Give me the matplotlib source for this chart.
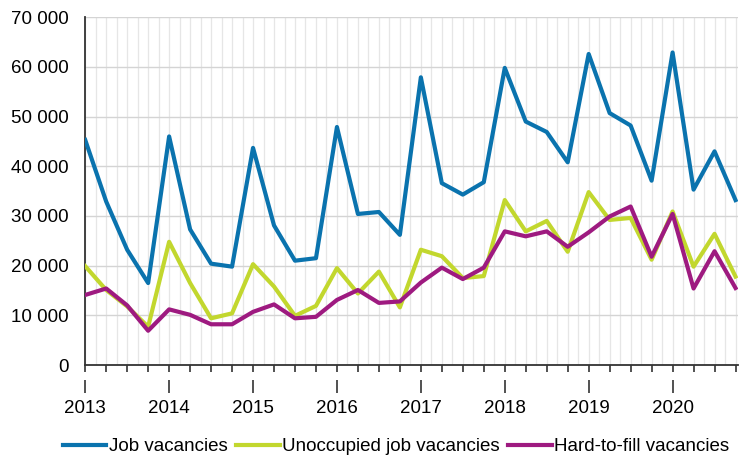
import matplotlib.pyplot as plt
import numpy as np

plt.rcParams['font.family'] = ['Liberation Sans', 'DejaVu Sans']

years = [2013, 2014, 2015, 2016, 2017, 2018, 2019, 2020]

# quarterly values 2013Q1 .. 2020Q4
job = [45300, 32900, 23200, 16500, 46000, 27300, 20400, 19800,
       43700, 28100, 21000, 21500, 47900, 30400, 30800, 26200,
       57900, 36600, 34300, 36800, 59800, 49000, 46900, 40800,
       62600, 50700, 48200, 37100, 62900, 35300, 43000, 33200]
unoccupied = [19900, 15100, 11800, 7700, 24800, 16500, 9400, 10400,
              20300, 15800, 9900, 11900, 19500, 14400, 18800, 11600,
              23200, 21900, 17500, 17900, 33200, 26900, 29000, 22800,
              34800, 29200, 29600, 21200, 30900, 19800, 26400, 17800]
hard = [14100, 15400, 12000, 6900, 11200, 10100, 8200, 8200,
        10700, 12200, 9400, 9700, 13100, 15100, 12500, 12800,
        16600, 19600, 17300, 19600, 26900, 25900, 26900, 23800,
        26700, 29900, 31900, 21800, 30400, 15400, 22900, 15500]

x = [years[0] + i / 4 for i in range(len(job))]

fig = plt.figure(figsize=(7.41, 4.65), dpi=100)
ax = fig.add_axes([0.115, 0.215, 0.881, 0.748])

# light grid
for gx in np.arange(2013, 2020.8, 0.125):
    ax.axvline(gx, color='#e6e6e6', lw=0.9, zorder=0)
for gy in range(10000, 70001, 10000):
    ax.axhline(gy, color='#d4d4d4', lw=1.0, zorder=0)

ax.plot(x, job, color='#0a73ae', lw=3, label='Job vacancies', zorder=3)
ax.plot(x, unoccupied, color='#c2d72e', lw=3, label='Unoccupied job vacancies', zorder=3)
ax.plot(x, hard, color='#9e1a80', lw=3, label='Hard-to-fill vacancies', zorder=4)

ax.set_xlim(2013, 2020.78)
ax.set_ylim(0, 70000)

yt = list(range(0, 70001, 10000))
ax.set_yticks(yt)
ax.set_yticklabels([f"{v:,}".replace(',', ' ') for v in yt], fontsize=13.5)
ax.tick_params(axis='y', length=0, pad=12)

# quarter ticks on the axis, no labels
ax.set_xticks(x)
ax.set_xticklabels([])
ax.tick_params(axis='x', length=5, width=1.2, color='#333333')

# year ticks and labels set a bit lower
sec = ax.secondary_xaxis(-0.043)
sec.set_xticks(years)
sec.set_xticklabels([str(y) for y in years], fontsize=13.5)
sec.tick_params(axis='x', length=9.5, width=1.2, color='#333333', pad=5)
sec.spines['bottom'].set_visible(False)

for s in ['top', 'right']:
    ax.spines[s].set_visible(False)
ax.spines['left'].set_color('#333333')
ax.spines['bottom'].set_color('#333333')
ax.spines['left'].set_linewidth(1.3)
ax.spines['bottom'].set_linewidth(1.3)

fig.legend(loc='center', bbox_to_anchor=(0.535, 0.039), ncol=3, frameon=False,
           fontsize=13.5, handlelength=2.3, handletextpad=0.15, columnspacing=0.45,
           borderpad=0, borderaxespad=0)

fig.savefig('out.png', dpi=100)
